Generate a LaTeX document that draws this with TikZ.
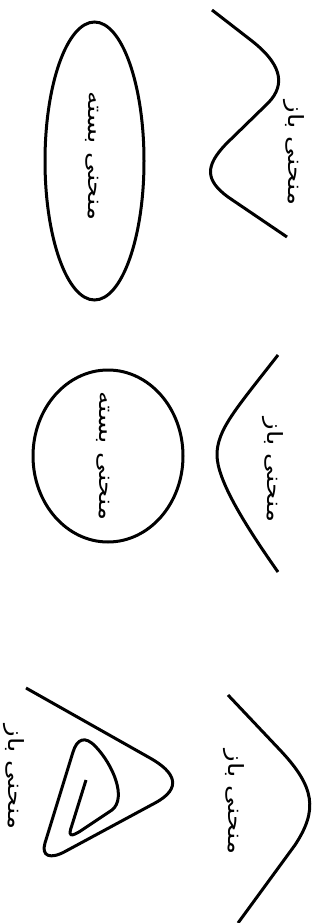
\documentclass[tikz,border=0pt]{standalone}
\usepackage{fontspec}
\newfontfamily\arabicfont[Script=Arabic, FakeStretch=1.25]{DejaVu Sans}
\TeXXeTstate=1
\newcommand{\fa}[1]{\arabicfont\beginR #1\endR}

\begin{document}
\begin{tikzpicture}[
  x=1pt, y=-1pt,
  curve/.style={line width=3pt},
  lbl/.style={rotate=-90, inner sep=0pt, font=\fontsize{21}{24}\selectfont}
]
\useasboundingbox (0,0) rectangle (322,923);
% open curves
\draw[curve] (212,10) -- (252,41) .. controls (285,67) and (285,88) .. (265,106)
  -- (226,144) .. controls (205,166) and (205,180) .. (228,197) -- (287,237);
\draw[curve] (278,355) .. controls (235,410) and (217,430) .. (217,455)
  .. controls (217,480) and (245,525) .. (278,572);
\draw[curve] (228,695) -- (280,750) .. controls (315,787) and (318,810) .. (295,845) -- (238,923);
\draw[curve] (26,688) -- (150,758) .. controls (175,772) and (183,788) .. (155,803)
  -- (66,851) .. controls (50,860) and (41,856) .. (45,843)
  -- (73,752) .. controls (77,739) and (85,735) .. (96,747)
  .. controls (113,765) and (127,798) .. (112,810)
  -- (82,830) .. controls (70,838) and (68,836) .. (72,825) -- (86,780);
% closed curves
\draw[curve] (94.5,161) ellipse [x radius=49.5pt, y radius=139pt];
\draw[curve] (108,456) ellipse [x radius=75pt, y radius=86pt];
% labels
\node[lbl] (open1) at (294,153) {\fa{منحنی باز}};
\node[lbl] (closed1) at (92,156) {\fa{منحنی بسته}};
\node[lbl] (open2) at (273,470) {\fa{منحنی باز}};
\node[lbl] (closed2) at (103,456) {\fa{منحنی بسته}};
\node[lbl] (open3) at (234,802) {\fa{منحنی باز}};
\node[lbl] (open4) at (14,777) {\fa{منحنی باز}};
\end{tikzpicture}
\end{document}
